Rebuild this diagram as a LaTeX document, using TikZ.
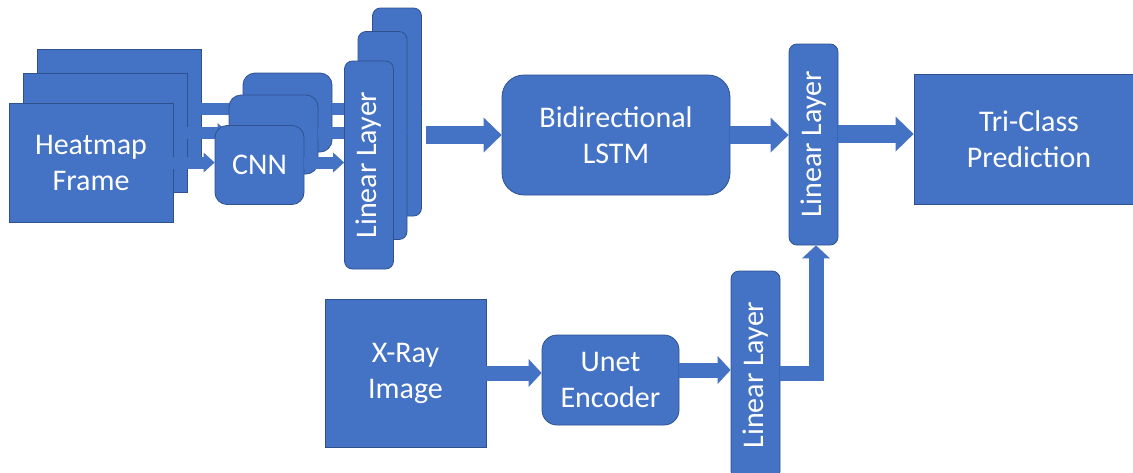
\documentclass[tikz,border=0pt]{standalone}
\usepackage{fontspec}
\setmainfont{Carlito}
\usetikzlibrary{arrows.meta}
\definecolor{boxblue}{HTML}{4472C4}
\definecolor{edgeblue}{HTML}{2F528F}

\begin{document}
\begin{tikzpicture}[x=1pt,y=-1pt,
    box/.style={draw=edgeblue, fill=boxblue, line width=0.8pt, text=white, align=center,
        inner sep=0pt, font=\fontsize{30}{36}\selectfont},
    frame/.style={box, minimum width=164pt, minimum height=119pt},
    cnnbox/.style={box, rounded corners=12pt, minimum width=89pt, minimum height=79pt},
    layer/.style={box, rounded corners=8pt, rotate=90, minimum width=208pt, minimum height=49pt},
    bigarrow/.style={draw=boxblue, line width=18pt, -{Triangle[length=18pt,width=35pt,line width=0pt]}},
    midarrow/.style={draw=boxblue, line width=15pt, -{Triangle[length=13pt,width=28pt,line width=0pt]}},
    smallarrow/.style={draw=boxblue, line width=12pt, -{Triangle[length=11pt,width=20pt,line width=0pt]}}]

    \useasboundingbox (0,0) rectangle (1133,472);
    \clip (0,0) rectangle (1133,472);

    % back copies
    \node[frame] (heat3) at (119,108.5) {};
    \node[cnnbox] (cnn3) at (287.5,112.5) {};
    \node[layer] (lin3) at (397,112) {};
    \draw[smallarrow] (heat3.east) -- (heat3.east -| cnn3.west);
    \draw[smallarrow] (cnn3.east |- heat3.east) -- (heat3.east -| lin3.south);

    % middle copies
    \node[frame] (heat2) at (105,133) {};
    \node[cnnbox] (cnn2) at (273.5,134.5) {};
    \node[layer] (lin2) at (382.5,135.5) {};
    \draw[smallarrow] (heat2.east) -- (heat2.east -| cnn2.west);
    \draw[smallarrow] (cnn2.east |- heat2.east) -- (heat2.east -| lin2.south);

    % front copies
    \node[frame] (heat1) at (91,162.5) {Heatmap\\Frame};
    \node[cnnbox] (cnn1) at (259.5,165) {CNN};
    \node[layer] (lin1) at (369,165) {Linear Layer};
    \draw[smallarrow] (heat1.east) -- (heat1.east -| cnn1.west);
    \draw[smallarrow] (cnn1.east |- heat1.east) -- (heat1.east -| lin1.north);

    % sequence part
    \node[box, rounded corners=22pt, minimum width=228pt, minimum height=120pt] (lstm) at (616,135) {Bidirectional\\LSTM};
    \node[layer, minimum width=201pt] (linR) at (813.5,144.5) {Linear Layer};
    \node[box, minimum width=230pt, minimum height=130pt] (tri) at (1029,139) {Tri-Class\\Prediction};

    \draw[bigarrow] ([xshift=4pt]lin3.south |- lstm.west) -- (lstm.west);
    \draw[bigarrow] (lstm.east) -- (lstm.east -| linR.north);
    \draw[bigarrow] ([yshift=5pt]linR.south |- tri.west) -- ([yshift=5pt]tri.west);

    % x-ray part
    \node[box, minimum width=161pt, minimum height=148pt] (xray) at (405.5,373) {X-Ray\\Image};
    \node[box, rounded corners=15pt, minimum width=137pt, minimum height=90pt] (unet) at (610.5,380) {Unet\\Encoder};
    \node[layer] (linB) at (755.5,375) {Linear Layer};

    \draw[midarrow] (xray.east) -- (xray.east -| unet.west);
    \draw[midarrow] ([yshift=10pt]unet.east) -- ([yshift=10pt]unet.east -| linB.north);
    \draw[midarrow] ([yshift=2pt]linB.south) -| ([xshift=2.5pt]linR.west);

\end{tikzpicture}
\end{document}
